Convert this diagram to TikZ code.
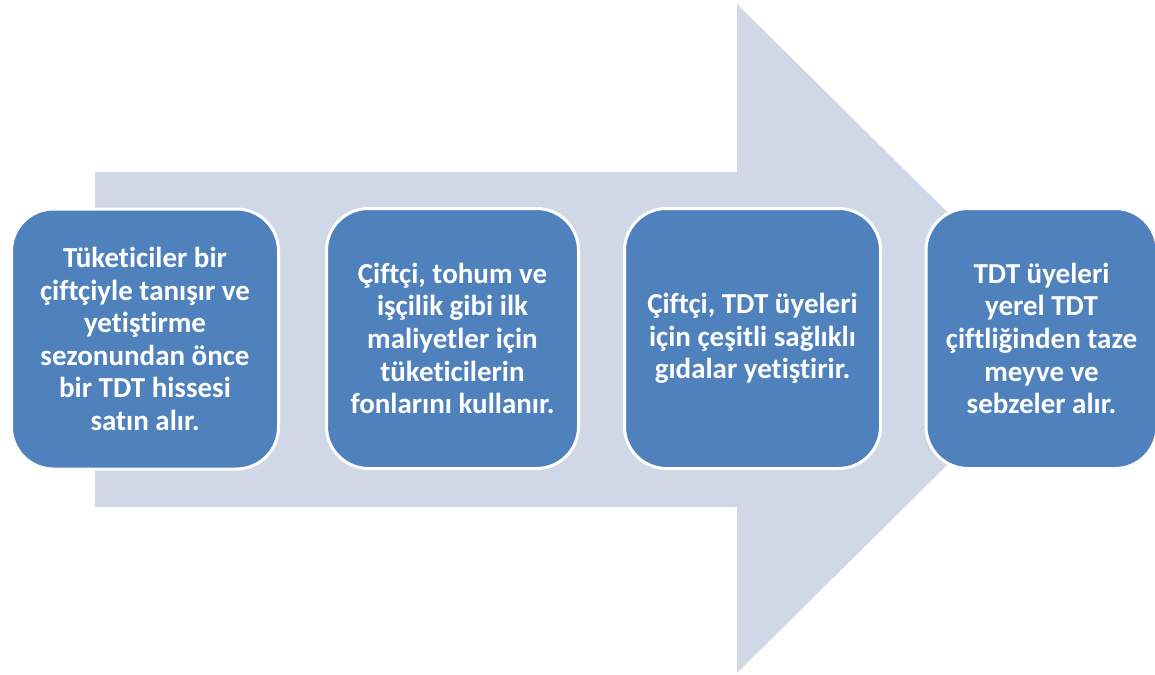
\documentclass[tikz,border=0pt]{standalone}
\usepackage{fontspec}
\setmainfont{Carlito}[Ligatures=NoCommon]
\definecolor{boxblue}{HTML}{4F81BD}
\definecolor{arrowgray}{HTML}{D0D8E8}
\begin{document}
\begin{tikzpicture}[x=1pt,y=-1pt,
  stepbox/.style={draw=white, line width=3pt, fill=boxblue, rounded corners=42pt,
    text=white, font=\fontsize{29}{32.6}\selectfont\bfseries, align=center,
    minimum height=260pt, inner sep=0pt}]
\useasboundingbox (0,0) rectangle (1155,674);
\clip (0,0) rectangle (1155,674);
\fill[arrowgray] (95,172) -- (737,172) -- (737,4) -- (1075,338.5) -- (737,673) -- (737,507) -- (95,507) -- cycle;
\node[stepbox, minimum width=267pt] (b1) at (145,339) {Tüketiciler bir\\çiftçiyle tanışır ve\\yetiştirme\\sezonundan önce\\bir TDT hissesi\\satın alır.};
\node[stepbox, minimum width=252pt] (b2) at (452.5,338.5) {Çiftçi, tohum ve\\işçilik gibi ilk\\maliyetler için\\tüketicilerin\\fonlarını kullanır.};
\node[stepbox, minimum width=256pt] (b3) at (752.5,338.5) {Çiftçi, TDT üyeleri\\için çeşitli sağlıklı\\gıdalar yetiştirir.};
\node[stepbox, minimum width=231pt] (b4) at (1041.5,338.5) {TDT üyeleri\\yerel TDT\\çiftliğinden taze\\meyve ve\\sebzeler alır.};
\end{tikzpicture}
\end{document}
